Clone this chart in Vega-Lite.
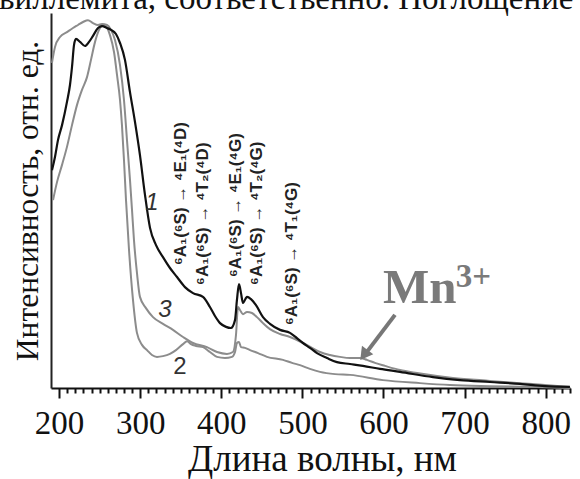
{
  "$schema": "https://vega.github.io/schema/vega-lite/v6.json",
  "width": 519,
  "height": 375,
  "autosize": {"type": "none"},
  "padding": {"left": 51, "top": 13, "right": 10, "bottom": 91},
  "background": "white",
  "config": {"view": {"stroke": null}},
  "title": {"text": "виллемита, соответственно. Поглощение с", "font": "Liberation Serif", "fontSize": 33, "fontWeight": "normal", "color": "#111", "anchor": "start", "frame": "group", "offset": 0, "baseline": "alphabetic", "dx": -52, "dy": 29},
  "datasets": {
    "curves": [
      {"s":"1","x":191.2,"y":58.1},{"s":"1","x":194.9,"y":61.6},{"s":"1","x":198.6,"y":66.1},{"s":"1","x":203.6,"y":70.1},{"s":"1","x":209.7,"y":76.3},{"s":"1","x":213.4,"y":80.8},{"s":"1","x":215.9,"y":85.6},{"s":"1","x":218.4,"y":91.5},{"s":"1","x":220.8,"y":93.1},{"s":"1","x":225.8,"y":92.3},{"s":"1","x":231.9,"y":91.2},{"s":"1","x":236.9,"y":92.3},{"s":"1","x":241.8,"y":93.9},{"s":"1","x":248.0,"y":96.0},{"s":"1","x":252.9,"y":96.5},{"s":"1","x":259.0,"y":96.0},{"s":"1","x":264.0,"y":95.5},{"s":"1","x":270.1,"y":94.4},{"s":"1","x":275.1,"y":92.0},{"s":"1","x":281.2,"y":87.5},{"s":"1","x":287.4,"y":78.9},{"s":"1","x":293.6,"y":70.9},{"s":"1","x":299.7,"y":62.1},{"s":"1","x":305.9,"y":51.5},{"s":"1","x":312.1,"y":42.7},{"s":"1","x":319.5,"y":38.1},{"s":"1","x":328.1,"y":34.9},{"s":"1","x":336.7,"y":32.0},{"s":"1","x":345.4,"y":29.6},{"s":"1","x":355.2,"y":26.9},{"s":"1","x":365.1,"y":25.3},{"s":"1","x":377.4,"y":24.3},{"s":"1","x":386.0,"y":21.6},{"s":"1","x":392.2,"y":19.2},{"s":"1","x":398.4,"y":17.3},{"s":"1","x":405.8,"y":16.3},{"s":"1","x":411.9,"y":16.0},{"s":"1","x":416.9,"y":18.1},{"s":"1","x":419.3,"y":23.5},{"s":"1","x":421.8,"y":27.7},{"s":"1","x":424.3,"y":25.3},{"s":"1","x":426.7,"y":22.7},{"s":"1","x":431.7,"y":24.3},{"s":"1","x":436.6,"y":23.7},{"s":"1","x":442.8,"y":22.1},{"s":"1","x":451.4,"y":18.9},{"s":"1","x":460.0,"y":17.1},{"s":"1","x":472.4,"y":15.5},{"s":"1","x":484.7,"y":14.7},{"s":"1","x":493.3,"y":13.3},{"s":"1","x":500.7,"y":12.0},{"s":"1","x":509.3,"y":10.7},{"s":"1","x":518.0,"y":9.3},{"s":"1","x":530.3,"y":8.0},{"s":"1","x":542.6,"y":6.9},{"s":"1","x":558.7,"y":6.4},{"s":"1","x":574.7,"y":5.9},{"s":"1","x":595.7,"y":5.1},{"s":"1","x":620.3,"y":4.3},{"s":"1","x":661.0,"y":2.9},{"s":"1","x":694.3,"y":2.1},{"s":"1","x":731.3,"y":1.6},{"s":"1","x":768.3,"y":1.1},{"s":"1","x":799.1,"y":0.5},{"s":"1","x":829.9,"y":0.3},
      {"s":"3","x":191.2,"y":86.7},{"s":"3","x":194.9,"y":90.9},{"s":"3","x":201.1,"y":93.6},{"s":"3","x":209.7,"y":94.9},{"s":"3","x":217.1,"y":96.0},{"s":"3","x":223.3,"y":96.8},{"s":"3","x":229.5,"y":97.6},{"s":"3","x":235.6,"y":98.1},{"s":"3","x":241.8,"y":97.3},{"s":"3","x":248.0,"y":96.8},{"s":"3","x":252.9,"y":97.1},{"s":"3","x":259.0,"y":96.8},{"s":"3","x":264.0,"y":95.5},{"s":"3","x":268.9,"y":92.8},{"s":"3","x":275.1,"y":86.1},{"s":"3","x":280.0,"y":76.8},{"s":"3","x":283.7,"y":66.1},{"s":"3","x":287.4,"y":55.5},{"s":"3","x":289.9,"y":47.5},{"s":"3","x":292.3,"y":39.5},{"s":"3","x":296.0,"y":30.7},{"s":"3","x":299.7,"y":24.3},{"s":"3","x":307.1,"y":21.3},{"s":"3","x":315.8,"y":18.9},{"s":"3","x":328.1,"y":17.1},{"s":"3","x":340.4,"y":15.5},{"s":"3","x":352.8,"y":13.6},{"s":"3","x":365.1,"y":12.0},{"s":"3","x":382.3,"y":10.9},{"s":"3","x":394.7,"y":9.6},{"s":"3","x":407.0,"y":9.1},{"s":"3","x":414.4,"y":9.6},{"s":"3","x":418.1,"y":14.1},{"s":"3","x":420.6,"y":21.6},{"s":"3","x":423.0,"y":20.8},{"s":"3","x":426.7,"y":19.7},{"s":"3","x":431.7,"y":20.3},{"s":"3","x":437.8,"y":20.0},{"s":"3","x":444.0,"y":18.9},{"s":"3","x":451.4,"y":17.3},{"s":"3","x":460.0,"y":15.7},{"s":"3","x":472.4,"y":14.4},{"s":"3","x":484.7,"y":13.6},{"s":"3","x":500.7,"y":12.0},{"s":"3","x":511.8,"y":10.7},{"s":"3","x":521.7,"y":9.6},{"s":"3","x":534.0,"y":8.8},{"s":"3","x":546.3,"y":8.3},{"s":"3","x":558.7,"y":8.0},{"s":"3","x":571.0,"y":8.0},{"s":"3","x":579.6,"y":7.5},{"s":"3","x":589.5,"y":6.7},{"s":"3","x":601.8,"y":5.9},{"s":"3","x":620.3,"y":4.8},{"s":"3","x":641.3,"y":4.0},{"s":"3","x":685.7,"y":2.7},{"s":"3","x":731.3,"y":1.9},{"s":"3","x":768.3,"y":1.3},{"s":"3","x":799.1,"y":0.8},{"s":"3","x":829.9,"y":0.3},
      {"s":"2","x":192.5,"y":50.1},{"s":"2","x":197.4,"y":54.9},{"s":"2","x":203.6,"y":59.5},{"s":"2","x":209.7,"y":64.3},{"s":"2","x":215.9,"y":70.1},{"s":"2","x":222.1,"y":75.5},{"s":"2","x":228.2,"y":79.5},{"s":"2","x":234.4,"y":82.9},{"s":"2","x":239.3,"y":87.5},{"s":"2","x":244.3,"y":92.3},{"s":"2","x":250.4,"y":96.0},{"s":"2","x":254.1,"y":96.8},{"s":"2","x":257.8,"y":96.5},{"s":"2","x":262.7,"y":94.1},{"s":"2","x":267.7,"y":89.6},{"s":"2","x":271.4,"y":83.5},{"s":"2","x":275.1,"y":76.8},{"s":"2","x":277.5,"y":70.1},{"s":"2","x":280.0,"y":60.8},{"s":"2","x":282.5,"y":50.1},{"s":"2","x":286.2,"y":36.8},{"s":"2","x":291.1,"y":23.5},{"s":"2","x":296.0,"y":14.7},{"s":"2","x":302.2,"y":11.5},{"s":"2","x":308.4,"y":10.1},{"s":"2","x":314.5,"y":8.8},{"s":"2","x":320.7,"y":8.3},{"s":"2","x":328.1,"y":8.5},{"s":"2","x":336.7,"y":9.1},{"s":"2","x":344.1,"y":10.1},{"s":"2","x":352.8,"y":11.7},{"s":"2","x":357.7,"y":12.5},{"s":"2","x":362.6,"y":11.7},{"s":"2","x":368.8,"y":11.2},{"s":"2","x":377.4,"y":10.9},{"s":"2","x":386.0,"y":9.6},{"s":"2","x":394.7,"y":8.3},{"s":"2","x":404.5,"y":8.0},{"s":"2","x":413.2,"y":8.3},{"s":"2","x":416.9,"y":9.6},{"s":"2","x":419.3,"y":12.0},{"s":"2","x":421.8,"y":12.3},{"s":"2","x":424.3,"y":10.9},{"s":"2","x":429.2,"y":10.7},{"s":"2","x":435.4,"y":10.1},{"s":"2","x":445.3,"y":9.3},{"s":"2","x":456.3,"y":8.3},{"s":"2","x":476.1,"y":7.5},{"s":"2","x":487.2,"y":6.7},{"s":"2","x":497.0,"y":6.1},{"s":"2","x":509.3,"y":5.1},{"s":"2","x":521.7,"y":4.3},{"s":"2","x":540.2,"y":3.7},{"s":"2","x":558.7,"y":3.5},{"s":"2","x":599.4,"y":2.1},{"s":"2","x":645.0,"y":1.3},{"s":"2","x":682.0,"y":0.8},{"s":"2","x":731.3,"y":0.5},{"s":"2","x":780.6,"y":0.3},{"s":"2","x":829.9,"y":0.0}
    ],
    "transitions": [
      {"t":"⁶A₁(⁶S) → ⁴E₁(⁴D)","x":350.3,"y":32.8},
      {"t":"⁶A₁(⁶S) → ⁴T₂(⁴D)","x":377.4,"y":27.5},
      {"t":"⁶A₁(⁶S) → ⁴E₁(⁴G)","x":418.1,"y":29.6},
      {"t":"⁶A₁(⁶S) → ⁴T₂(⁴G)","x":444.0,"y":27.5},
      {"t":"⁶A₁(⁶S) → ⁴T₁(⁴G)","x":487.2,"y":16.8}
    ],
    "numbers": [
      {"t":"1","x":314.5,"y":49.3,"st":"italic"},
      {"t":"3","x":330.6,"y":20.8,"st":"italic"},
      {"t":"2","x":349.1,"y":5.6,"st":"normal"}
    ],
    "arrow": [{"x":614.2,"y":19.5,"x2":578.4,"y2":9.3}],
    "head": [{"x":575.9,"y":8.8}],
    "mn": [{"t":"Mn","x":599.4,"y":22.7}],
    "sup": [{"t":"3+","x":689.0,"y":26.9}]
  },
  "encoding": {
    "x": {"field": "x", "type": "quantitative",
      "scale": {"domain": [190, 830], "nice": false, "zero": false},
      "axis": {
        "values": [200,210,220,230,240,250,260,270,280,290,300,310,320,330,340,350,360,370,380,390,400,410,420,430,440,450,460,470,480,490,500,510,520,530,540,550,560,570,580,590,600,610,620,630,640,650,660,670,680,690,700,710,720,730,740,750,760,770,780,790,800,810,820,830],
        "tickSize": {"condition": {"test": "datum.value % 100 === 0", "value": 10}, "value": 5},
        "labelExpr": "datum.value % 100 === 0 ? datum.label : ''",
        "labelOverlap": false, "labelFlush": false, "labelBound": false,
        "grid": false, "tickColor": "#111", "tickWidth": 2, "domainColor": "#111", "domainWidth": 2,
        "labelFont": "Liberation Serif", "labelFontSize": 33, "labelColor": "#111", "labelPadding": 9,
        "title": "Длина волны, нм", "titleFont": "Liberation Serif", "titleFontSize": 37, "titleFontWeight": "normal", "titleColor": "#111",
        "titleX": 271, "titleY": 82, "titleBaseline": "alphabetic"
      }},
    "y": {"field": "y", "type": "quantitative",
      "scale": {"domain": [0, 100], "nice": false},
      "axis": {"ticks": false, "labels": false, "grid": false, "domainColor": "#222", "domainWidth": 2,
        "title": "Интенсивность, отн. ед.", "titleFont": "Liberation Serif", "titleFontSize": 31.5, "titleFontWeight": "normal", "titleColor": "#111",
        "titlePadding": 14, "titleBaseline": "alphabetic"}}
  },
  "layer": [
    {"data": {"name": "curves"}, "transform": [{"filter": "datum.s !== '1'"}],
     "mark": {"type": "line", "strokeWidth": 2, "color": "#8c8c8c", "interpolate": "monotone"},
     "encoding": {"detail": {"field": "s"}}},
    {"data": {"name": "curves"}, "transform": [{"filter": "datum.s === '1'"}],
     "mark": {"type": "line", "strokeWidth": 2.2, "color": "#111", "interpolate": "monotone"}},
    {"data": {"name": "arrow"}, "mark": {"type": "rule", "strokeWidth": 4, "color": "#777"},
     "encoding": {"x2": {"field": "x2"}, "y2": {"field": "y2"}}},
    {"data": {"name": "head"}, "mark": {"type": "point", "shape": "triangle-up", "angle": 217, "size": 200, "filled": true, "color": "#777", "opacity": 1}},
    {"data": {"name": "numbers"}, "transform": [{"filter": "datum.st === 'italic'"}],
     "mark": {"type": "text", "font": "Liberation Sans", "fontSize": 24, "fontStyle": "italic", "color": "#333", "align": "center", "baseline": "middle"},
     "encoding": {"text": {"field": "t"}}},
    {"data": {"name": "numbers"}, "transform": [{"filter": "datum.st !== 'italic'"}],
     "mark": {"type": "text", "font": "Liberation Sans", "fontSize": 24, "color": "#333", "align": "center", "baseline": "middle"},
     "encoding": {"text": {"field": "t"}}},
    {"data": {"name": "transitions"}, "mark": {"type": "text", "font": "Liberation Sans", "fontWeight": "bold", "fontSize": 17, "color": "#222", "angle": 270, "align": "left", "baseline": "middle"},
     "encoding": {"text": {"field": "t"}}},
    {"data": {"name": "mn"}, "mark": {"type": "text", "font": "Liberation Serif", "fontWeight": "bold", "fontSize": 49, "color": "#7a7a7a", "align": "left", "baseline": "alphabetic"},
     "encoding": {"text": {"field": "t"}}},
    {"data": {"name": "sup"}, "mark": {"type": "text", "font": "Liberation Serif", "fontWeight": "bold", "fontSize": 33, "color": "#7a7a7a", "align": "left", "baseline": "alphabetic"},
     "encoding": {"text": {"field": "t"}}}
  ]
}
